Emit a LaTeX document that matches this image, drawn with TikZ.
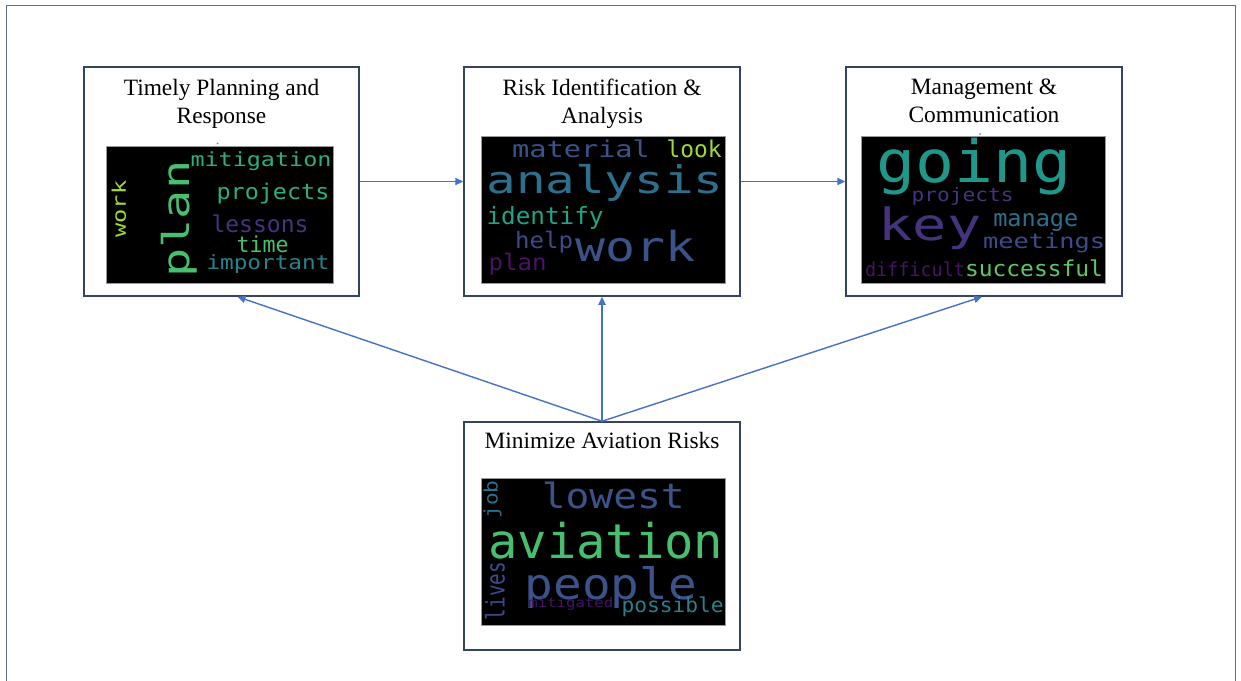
\documentclass[tikz,border=0pt]{standalone}
\usepackage{fontspec}
\setmainfont{Liberation Serif}
\newfontfamily\wcfont{DejaVu Sans Mono}
\usetikzlibrary{arrows.meta}

% one drawing unit = 0.5pt
\newdimen\pxu \pxu=0.5pt

\definecolor{boxline}{HTML}{34435E}
\definecolor{frameline}{HTML}{5E6C84}
\definecolor{arrowblue}{HTML}{4472C4}
\definecolor{cloudedge}{HTML}{9A9A9A}
% viridis-like word colours
\definecolor{vdeep}{HTML}{471365}
\definecolor{vpurple}{HTML}{46337E}
\definecolor{vindigo}{HTML}{3E4A89}
\definecolor{vblue}{HTML}{3B528B}
\definecolor{vsteel}{HTML}{2D708E}
\definecolor{vteal}{HTML}{26838E}
\definecolor{vcyan}{HTML}{1F988B}
\definecolor{vsea}{HTML}{20A486}
\definecolor{vmint}{HTML}{2AB07F}
\definecolor{vgreen}{HTML}{46C06F}
\definecolor{vlime}{HTML}{5EC962}
\definecolor{vyellow}{HTML}{9FDA3A}

% a word of a word cloud: name, x, y, length, thickness, rotation, colour, text
\newcommand{\cloudword}[8]{%
  \node[inner sep=0pt, rotate=#6, text=#7] (#1) at (#2,#3)
    {\resizebox*{#4\pxu}{#5\pxu}{\wcfont #8}};}

\begin{document}
\begin{tikzpicture}[x=0.5pt, y=-0.5pt,
  panel/.style={draw=boxline, line width=0.75pt, fill=white, inner sep=0pt},
  cloudbg/.style={draw=cloudedge, line width=0.4pt, fill=black, inner sep=0pt},
  heading/.style={font=\fontsize{11.7}{14}\selectfont, align=center, anchor=north, inner sep=0pt},
  conn/.style={draw=arrowblue, line width=0.7pt, -{Triangle[length=4pt,width=3.6pt]}}]
\useasboundingbox (0,0) rectangle (1241,680);

% page frame
\draw[frameline, line width=0.8pt] (6.5,5.5) rectangle (1235.5,720);

% panels
\node[panel, minimum width=137.5pt, minimum height=114.5pt] (b1) at (221.5,181.5) {};
\node[panel, minimum width=138pt, minimum height=114.5pt] (b2) at (602,181.5) {};
\node[panel, minimum width=138pt, minimum height=114.5pt] (b3) at (984,181.5) {};
\node[panel, minimum width=138pt, minimum height=114pt] (b4) at (602,536) {};

% headings
\node[heading] (h1) at (221.5,79) {Timely Planning and\\Response};
\node[heading] (h2) at (602,79) {Risk Identification \&\\Analysis};
\node[heading] (h3) at (984,79) {Management \&\\Communication};
\node[heading] (h4) at (602,432) {Minimize Aviation Risks};

% word cloud backgrounds
\node[cloudbg, minimum width=113.5pt, minimum height=68.5pt] (wc1) at (219.5,214.5) {};
\node[cloudbg, minimum width=122pt, minimum height=73.5pt] (wc2) at (603,209.5) {};
\node[cloudbg, minimum width=122pt, minimum height=73.5pt] (wc3) at (983,209.5) {};
\node[cloudbg, minimum width=122pt, minimum height=73.5pt] (wc4) at (603,551.5) {};

% small marks above the clouds
\fill[gray] (217.7,143.5) circle (0.5pt);
\fill[gray] (980,134) circle (0.5pt);

% cloud 1: planning
\cloudword{a1}{261}{161}{141}{19}{0}{vmint}{mitigation}
\cloudword{a2}{273}{193.7}{113}{21}{0}{vmint}{projects}
\cloudword{a3}{260}{224}{97}{18}{0}{vpurple}{lessons}
\cloudword{a4}{262.5}{244.7}{52}{17}{0}{vgreen}{time}
\cloudword{a5}{268}{264.5}{123}{19}{0}{vteal}{important}
\cloudword{a6}{178.8}{219}{117}{36}{90}{vgreen}{plan}
\cloudword{a7}{118.8}{209}{57}{14.5}{90}{vyellow}{work}

% cloud 2: identification
\cloudword{c1}{581}{149}{138}{18}{0}{vblue}{material}
\cloudword{c2}{694}{149}{55}{18}{0}{vyellow}{look}
\cloudword{c3}{605}{183.3}{237}{37}{0}{vsteel}{analysis}
\cloudword{c4}{545}{218}{117}{23}{0}{vsea}{identify}
\cloudword{c5}{544}{242.5}{58}{22}{0}{vindigo}{help}
\cloudword{c6}{635}{246}{120}{32}{0}{vblue}{work}
\cloudword{c7}{517.5}{264}{58}{22}{0}{vdeep}{plan}

% cloud 3: management
\cloudword{d1}{974}{166.7}{195}{57}{0}{vcyan}{going}
\cloudword{d2}{962.5}{196}{102}{18}{0}{vpurple}{projects}
\cloudword{d3}{930}{228.3}{103}{43}{0}{vpurple}{key}
\cloudword{d4}{1035.8}{222.5}{85}{18}{0}{vsteel}{manage}
\cloudword{d5}{1044}{243.3}{122}{20}{0}{vindigo}{meetings}
\cloudword{d6}{915}{269}{100}{15}{0}{vdeep}{difficult}
\cloudword{d7}{1034}{268.3}{138}{17}{0}{vlime}{successful}

% cloud 4: aviation risks
\cloudword{e1}{613.3}{495.3}{143}{27}{0}{vblue}{lowest}
\cloudword{e2}{492.5}{499.5}{38}{18}{90}{vsteel}{job}
\cloudword{e3}{605.8}{540.3}{235}{37}{0}{vgreen}{aviation}
\cloudword{e4}{495}{591}{58}{20}{90}{vindigo}{lives}
\cloudword{e5}{610.8}{587.8}{172}{42}{0}{vblue}{people}
\cloudword{e6}{570.8}{603.7}{85}{13}{0}{vdeep}{mitigated}
\cloudword{e7}{672.5}{607}{102}{20}{0}{vteal}{possible}

% connectors
\draw[conn] (b1.east) -- (b2.west);
\draw[conn] (b2.east) -- (b3.west);
\draw[conn] (b4.north) -- ([xshift=8pt]b1.south);
\draw[conn] (b4.north) -- (b2.south);
\draw[conn] (b4.north) -- ([xshift=-1pt]b3.south);
\end{tikzpicture}
\end{document}
